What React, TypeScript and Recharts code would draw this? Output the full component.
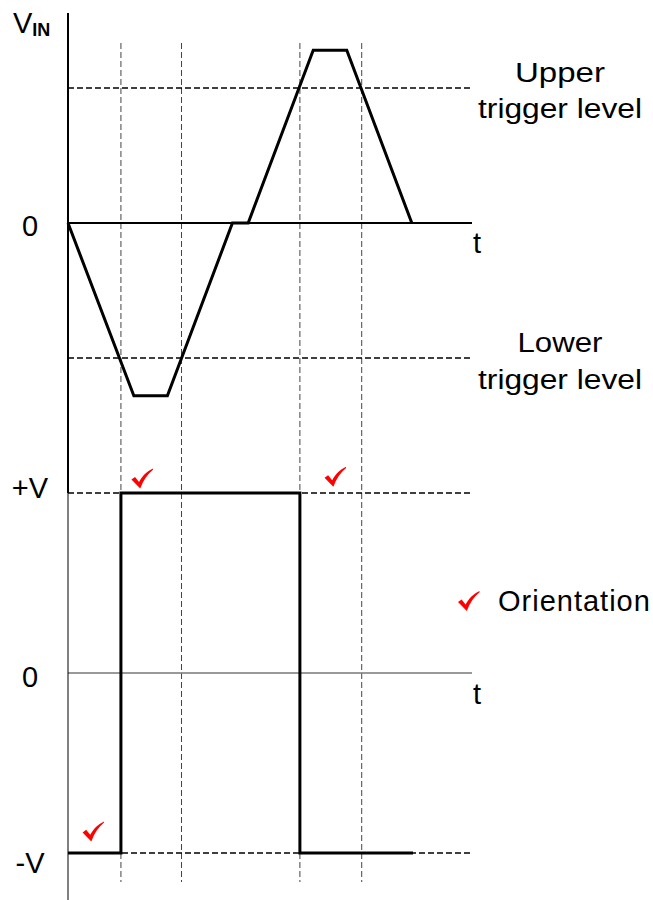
import React from 'react';
import { ComposedChart, Line, Scatter, XAxis, YAxis, ReferenceLine } from 'recharts';

const FONT = '"Liberation Sans", Arial, sans-serif';

// input waveform (time in arbitrary units, voltage relative to trigger level)
const vinTimes = [0, 1.63, 2.46, 4.07, 4.46, 6.07, 6.9, 8.51];
const vinValues = [0, -1.28, -1.28, 0, 0, 1.28, 1.28, 0];

// output square wave (stepAfter)
const outTimes = [0, 1.31, 5.74, 8.54];
const outValues = [-1, 1, -1, -1];

// moments the comparator switches / input crosses a trigger level
const crossTimes = [1.31, 2.81, 5.74, 7.27];

const upperTrigger = 1;
const lowerTrigger = -1;
const plusV = 1;
const minusV = -1;

// red orientation ticks on the output plot
const checkTimes = [1.83, 6.61, 0.62];
const checkValues = [1.08, 1.09, -0.88];

const vinData = vinTimes.map((t, i) => ({ t, v: vinValues[i] }));
const outData = outTimes.map((t, i) => ({ t, v: outValues[i] }));
const checkData = checkTimes.map((t, i) => ({ t, v: checkValues[i] }));

const TOP_DOMAIN: [number, number] = [-2, 1.5556];
const BOTTOM_DOMAIN: [number, number] = [-1.2611, 1.1667];

const CHECK_PATH = 'M0 11 L3.6 8.4 L7.6 13.4 C11 7.4 15.2 2.8 21.5 0 L21.5 1.2 C16 5.6 11.8 11.8 8.8 20 Z';

const CheckMark = ({ cx, cy }: any) => (
  <path transform={`translate(${cx - 10.5},${cy - 10})`} d={CHECK_PATH} fill="#ff0000" />
);

const SideLabel = ({ viewBox, text, dy }: any) => {
  if (!viewBox) return null;
  return (
    <text x={viewBox.x - 38} y={viewBox.y + dy} textAnchor="middle" fontFamily={FONT} fontSize={29} fill="#000">
      {text}
    </text>
  );
};

const ZeroLabels = ({ viewBox, dy, tDy }: any) => {
  if (!viewBox) return null;
  return (
    <g fontFamily={FONT} fontSize={29} fill="#000">
      <text x={viewBox.x - 38} y={viewBox.y + dy} textAnchor="middle">0</text>
      <text x={viewBox.x + viewBox.width + 5} y={viewBox.y + tDy} textAnchor="middle">t</text>
    </g>
  );
};

const TriggerLabel = ({ viewBox, first, firstLen, firstDy, secondDy }: any) => {
  if (!viewBox) return null;
  const cx = viewBox.x + viewBox.width + 88;
  return (
    <g fontFamily={FONT} fontSize={27} fill="#000">
      <text x={cx} y={viewBox.y + firstDy} textAnchor="middle" textLength={firstLen} lengthAdjust="spacingAndGlyphs">
        {first}
      </text>
      <text x={cx} y={viewBox.y + secondDy} textAnchor="middle" textLength={164} lengthAdjust="spacingAndGlyphs">
        trigger level
      </text>
    </g>
  );
};

const VinLabel = ({ viewBox }: any) => {
  if (!viewBox) return null;
  return (
    <text x={viewBox.x - 55} y={viewBox.y + 20} fontFamily={FONT} fill="#000">
      <tspan fontSize={29}>V</tspan>
      <tspan fontSize={18} fontWeight="bold" dy={3}>IN</tspan>
    </text>
  );
};

const OrientationLegend = () => (
  <div
    style={{
      position: 'absolute',
      top: 591,
      left: 458,
      display: 'flex',
      alignItems: 'center',
      fontFamily: FONT,
      fontSize: 29,
      lineHeight: '21px',
      color: '#000',
      whiteSpace: 'nowrap',
    }}
  >
    <svg width={22} height={21} style={{ display: 'block' }}>
      <path d={CHECK_PATH} fill="#ff0000" />
    </svg>
    <span style={{ marginLeft: 18, letterSpacing: 1 }}>Orientation</span>
  </div>
);

const gridDash = { stroke: '#444', strokeWidth: 1, strokeDasharray: '6 3' };
const levelDash = { stroke: '#000', strokeWidth: 1.5, strokeDasharray: '6 3' };

export default function App() {
  return (
    <div style={{ position: 'absolute', top: 0, left: 0, width: 653, height: 900, background: '#fff' }}>
      <div style={{ position: 'absolute', top: 0, left: 0 }}>
        <ComposedChart width={653} height={493} margin={{ top: 13, right: 181, bottom: 0, left: 68 }}>
          <XAxis type="number" dataKey="t" domain={[0, 10]} hide />
          <YAxis type="number" domain={TOP_DOMAIN} hide />
          {crossTimes.map((t) => (
            <ReferenceLine key={t} segment={[{ x: t, y: 4 / 3 }, { x: t, y: TOP_DOMAIN[0] }]} {...gridDash} />
          ))}
          <ReferenceLine
            y={upperTrigger}
            {...levelDash}
            label={<TriggerLabel first="Upper" firstLen={90} firstDy={-6} secondDy={30} />}
          />
          <ReferenceLine
            y={lowerTrigger}
            {...levelDash}
            label={<TriggerLabel first="Lower" firstLen={85} firstDy={-6} secondDy={31} />}
          />
          <ReferenceLine y={0} stroke="#000" strokeWidth={2} label={<ZeroLabels dy={13} tDy={30} />} />
          <ReferenceLine
            segment={[{ x: 0, y: TOP_DOMAIN[1] }, { x: 0, y: TOP_DOMAIN[0] }]}
            stroke="#000"
            strokeWidth={2}
            label={<VinLabel />}
          />
          <Line
            data={vinData}
            dataKey="v"
            type="linear"
            stroke="#000"
            strokeWidth={3}
            dot={false}
            activeDot={false}
            isAnimationActive={false}
          />
        </ComposedChart>
      </div>
      <div style={{ position: 'absolute', top: 463, left: 0 }}>
        <ComposedChart width={653} height={437} margin={{ top: 0, right: 181, bottom: 0, left: 68 }}>
          <XAxis type="number" dataKey="t" domain={[0, 10]} hide />
          <YAxis type="number" domain={BOTTOM_DOMAIN} hide />
          {crossTimes.map((t) => (
            <ReferenceLine key={t} segment={[{ x: t, y: plusV }, { x: t, y: -1.161 }]} {...gridDash} />
          ))}
          <ReferenceLine y={plusV} {...levelDash} label={<SideLabel text="+V" dy={5} />} />
          <ReferenceLine y={minusV} {...levelDash} label={<SideLabel text="-V" dy={20} />} />
          <ReferenceLine y={0} stroke="#777" strokeWidth={1.5} label={<ZeroLabels dy={14} tDy={31} />} />
          <ReferenceLine
            segment={[{ x: 0, y: plusV }, { x: 0, y: BOTTOM_DOMAIN[0] }]}
            stroke="#000"
            strokeWidth={1}
          />
          <Line
            data={outData}
            dataKey="v"
            type="stepAfter"
            stroke="#000"
            strokeWidth={3}
            dot={false}
            activeDot={false}
            isAnimationActive={false}
          />
          <Scatter
            data={checkData}
            dataKey="v"
            name="Orientation"
            shape={(p: any) => <CheckMark cx={p.cx} cy={p.cy} />}
            isAnimationActive={false}
          />
        </ComposedChart>
      </div>
      <OrientationLegend />
    </div>
  );
}
